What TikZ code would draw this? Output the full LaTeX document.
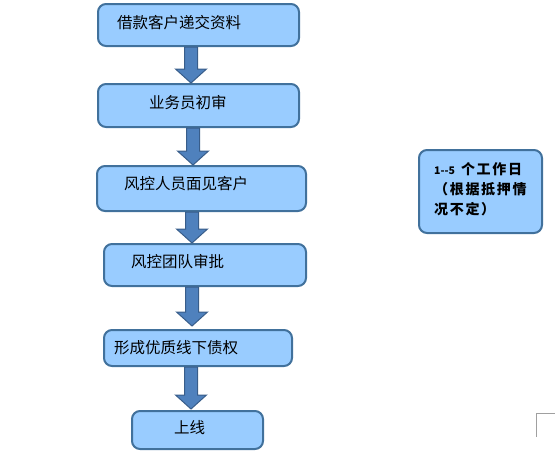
\documentclass[tikz,border=0pt]{standalone}
\usepackage{fontspec}
\newfontfamily\cjk{Noto Sans CJK SC}
\newfontfamily\cjksp[LetterSpace=12]{Noto Sans CJK SC}
\usetikzlibrary{calc}
\definecolor{boxfill}{HTML}{99CCFF}
\definecolor{boxline}{HTML}{41719C}
\definecolor{arrfill}{HTML}{4F81BD}
\definecolor{arrline}{HTML}{385D8A}
\definecolor{markgray}{HTML}{A0A0A0}
\begin{document}
\begin{tikzpicture}[x=1pt,y=-1pt,
  stepbox/.style={draw=boxline, fill=boxfill, line width=2pt, rounded corners=8pt, inner sep=0pt},
  lbl/.style={anchor=west, inner sep=0pt, font=\cjk\fontsize{15.5}{18}\selectfont},
  fat/.style={draw=arrline, fill=arrfill, line width=1pt,
    to path={let \p1=(\tikztostart), \p2=(\tikztotarget) in
      (\x1-6.5,\y1) -- (\x1+6.5,\y1) -- (\x1+6.5,\y2+14) -- (\x1+15.5,\y2+14)
      -- (\x1,\y2) -- (\x1-15.5,\y2+14) -- (\x1-6.5,\y2+14) -- cycle}}]
\useasboundingbox (0,0) rectangle (555,453);

% boxes
\node[stepbox, minimum width=201, minimum height=42] (b1) at (198.5,25) {};
\node[stepbox, minimum width=201, minimum height=43] (b2) at (198.5,105.5) {};
\node[stepbox, minimum width=209, minimum height=45] (b3) at (201.5,188.5) {};
\node[stepbox, minimum width=202, minimum height=42] (b4) at (205,265) {};
\node[stepbox, minimum width=188, minimum height=36] (b5) at (198,348) {};
\node[stepbox, minimum width=131, minimum height=38] (b6) at (197.5,430) {};
\node[stepbox, minimum width=123, minimum height=83] (s) at (480.5,191.5) {};

% labels
\node[lbl] (t1) at (117,23) {借款客户递交资料};
\node[lbl] (t2) at (149,103) {业务员初审};
\node[lbl] (t3) at (124,184) {风控人员面见客户};
\node[lbl] (t4) at (131,262) {风控团队审批};
\node[lbl] (t5) at (114,348) {形成优质线下债权};
\node[lbl] (t6) at (174,428) {上线};

\node[anchor=base west, inner sep=0pt, align=left,
      font=\cjksp\bfseries\fontsize{14}{20}\selectfont] (st) at (434,214.5)
  {{\cjk\bfseries\fontsize{10.5}{20}\selectfont 1-{}-5}\hspace{6pt}个工作日\\（根据抵押情\\况不定）};

% arrows
\coordinate (a1) at (191,47);
\coordinate (a2) at (193,128);
\coordinate (a3) at (192,212);
\coordinate (a4) at (192,287);
\coordinate (a5) at (191,367);
\draw[fat] (a1) to (a1 |- b2.north);
\draw[fat] (a2) to (a2 |- b3.north);
\draw[fat] (a3) to (a3 |- b4.north);
\draw[fat] ($(a4 |- b4.south)$) to ($(a4 |- b5.north)+(0,-3)$);
\draw[fat] ($(a5 |- b5.south)$) to ($(a5 |- b6.north)+(0,-1)$);

% page corner mark
\coordinate (m1) at (536,437);
\coordinate (m2) at (536,413);
\coordinate (m3) at (555,413);
\draw[markgray, line width=1pt] (m1) -- (m2) -- (m3);
\end{tikzpicture}
\end{document}
